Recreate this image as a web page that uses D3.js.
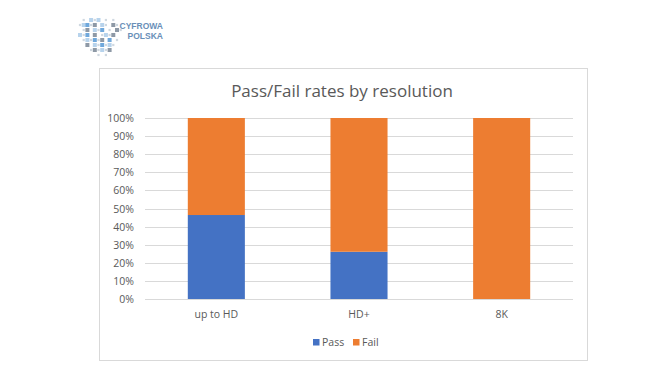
<!DOCTYPE html>
<html>
<head>
<meta charset="utf-8">
<script src="https://cdn.jsdelivr.net/npm/d3@7"></script>
<style>
  body { margin: 0; background: #fff; }
  svg { display: block; }
  text { font-family: "Open Sans", "Noto Sans", sans-serif; }
</style>
</head>
<body>
<div id="content"></div>
<script>
const categories = ['up to HD', 'HD+', '8K'];
const passRates = [0.464, 0.261, 0];
const failRates = [0.536, 0.739, 1];
const seriesNames = ['Pass', 'Fail'];
const seriesColors = ['#4472c4', '#ed7d31'];
const yTicks = [0, 0.1, 0.2, 0.3, 0.4, 0.5, 0.6, 0.7, 0.8, 0.9, 1];

// logo pattern: b = blue, g = grey, l = light blue, . = faint dot
const logoRows = [
  ' . l.l . .  ',
  '.lb.g l. g. ',
  ' .g l.b . g.',
  'l.b g .l.g  ',
  ' .l.b.g b . ',
  '  g l.b.l.  ',
  '   .g.l.g   ',
  '     . .    '
];

const width = 655, height = 386;
const margin = { left: 145, right: 82, top: 118, bottom: 87 };

const svg = d3.select('#content').append('svg')
  .attr('width', width)
  .attr('height', height);

// logo
const logoColor = { b: '#6fa8dc', g: '#8e99a6', l: '#b7d3ec', '.': '#cfd8e0' };
logoRows.forEach((row, r) => {
  row.split('').forEach((ch, c) => {
    if (ch === ' ') return;
    const s = ch === '.' ? 2.2 : 4;
    svg.append('rect')
      .attr('x', 78 + c * 3.7 - s / 2 + 2)
      .attr('y', 18 + r * 5 - s / 2 + 2)
      .attr('width', s).attr('height', s)
      .attr('fill', logoColor[ch]);
  });
});
svg.append('text').attr('x', 163).attr('y', 29)
  .attr('text-anchor', 'end').attr('font-size', 8.5).attr('font-weight', 'bold')
  .attr('fill', '#6a8fb8').style('font-family', 'Liberation Sans, Arial, sans-serif')
  .text('CYFROWA');
svg.append('text').attr('x', 163).attr('y', 39)
  .attr('text-anchor', 'end').attr('font-size', 8.5).attr('font-weight', 'bold')
  .attr('fill', '#6a8fb8').style('font-family', 'Liberation Sans, Arial, sans-serif')
  .text('POLSKA');

// chart frame
svg.append('rect')
  .attr('x', 99.5).attr('y', 68.5)
  .attr('width', 488).attr('height', 292)
  .attr('fill', '#fff').attr('stroke', '#d9d9d9');

svg.append('text')
  .attr('x', 342).attr('y', 97)
  .attr('text-anchor', 'middle')
  .attr('font-size', 17)
  .attr('fill', '#595959')
  .text('Pass/Fail rates by resolution');

const x = d3.scaleBand()
  .domain(categories)
  .range([margin.left, width - margin.right])
  .paddingInner(0.6)
  .paddingOuter(0.3);

const y = d3.scaleLinear()
  .domain([0, 1])
  .range([height - margin.bottom, margin.top]);

// gridlines
svg.append('g')
  .selectAll('line')
  .data(yTicks)
  .join('line')
  .attr('x1', margin.left).attr('x2', width - margin.right)
  .attr('y1', d => Math.round(y(d)) + 0.5).attr('y2', d => Math.round(y(d)) + 0.5)
  .attr('stroke', '#d9d9d9');

// y labels
svg.append('g')
  .selectAll('text')
  .data(yTicks)
  .join('text')
  .attr('x', 134)
  .attr('y', d => y(d) + 4)
  .attr('text-anchor', 'end')
  .attr('font-size', 10.5)
  .attr('fill', '#595959')
  .text(d => d3.format('.0%')(d));

// stacked bars
const rows = categories.map((c, i) => ({ cat: c, Pass: passRates[i], Fail: failRates[i] }));
const stack = d3.stack().keys(seriesNames)(rows);

svg.append('g')
  .selectAll('g')
  .data(stack)
  .join('g')
  .attr('fill', (d, i) => seriesColors[i])
  .selectAll('rect')
  .data(d => d)
  .join('rect')
  .attr('x', d => x(d.data.cat))
  .attr('y', d => y(d[1]))
  .attr('width', x.bandwidth())
  .attr('height', d => y(d[0]) - y(d[1]));

// x labels
svg.append('g')
  .selectAll('text')
  .data(categories)
  .join('text')
  .attr('x', d => x(d) + x.bandwidth() / 2)
  .attr('y', 318)
  .attr('text-anchor', 'middle')
  .attr('font-size', 10.5)
  .attr('fill', '#595959')
  .text(d => d);

// legend
const legendX = [313, 353];
const legend = svg.append('g')
  .selectAll('g')
  .data(seriesNames)
  .join('g')
  .attr('transform', (d, i) => `translate(${legendX[i]},339)`);
legend.append('rect')
  .attr('width', 6.5).attr('height', 6.5)
  .attr('fill', (d, i) => seriesColors[i]);
legend.append('text')
  .attr('x', 9).attr('y', 7)
  .attr('font-size', 10.5)
  .attr('fill', '#595959')
  .text(d => d);
</script>
</body>
</html>
